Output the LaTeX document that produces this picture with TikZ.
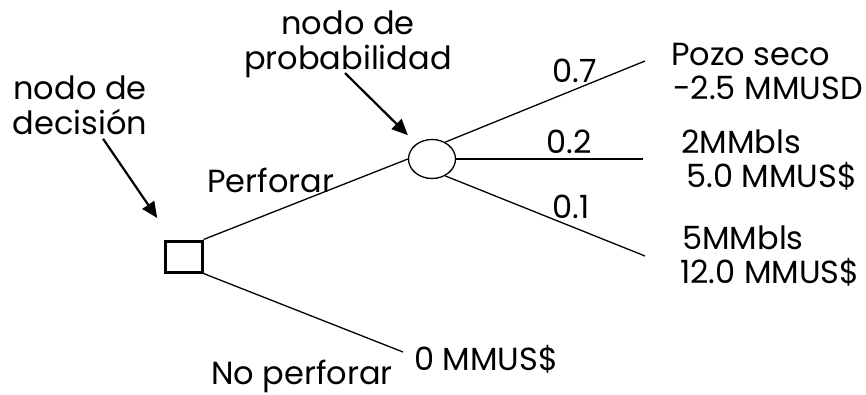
\documentclass[tikz,border=0pt]{standalone}
\usepackage{fontspec}
\setmainfont{Poppins}
\usetikzlibrary{shapes.geometric,arrows.meta}

\tikzset{
  txt/.style={font=\fontsize{32}{35}\selectfont, inner sep=0pt},
  rama/.style={line width=1.3pt},
  flecha/.style={line width=2.2pt, -{Triangle[length=16pt,width=14pt]}}
}

\begin{document}
\begin{tikzpicture}[x=1pt,y=-1pt]
\useasboundingbox (0,0) rectangle (866,394);
% nodos del arbol
\node[draw, line width=3pt, minimum width=37pt, minimum height=31pt, inner sep=0pt] (dec) at (183.5,256.5) {};
\node[draw, ellipse, line width=1.3pt, minimum width=47pt, minimum height=39pt, inner sep=0pt] (prob) at (432,159) {};
% extremos de las ramas
\coordinate (e0) at (403,352);
\coordinate (e1) at (645,61);
\coordinate (e2) at (643,159);
\coordinate (e3) at (645,256);
\draw[rama] (dec.north east) -- (prob.west);
\draw[rama] (dec.south east) -- (e0);
\draw[rama] (prob.52) -- (e1);
\draw[rama] (prob.east) -- (e2);
\draw[rama] (prob.-52) -- (e3);
% etiquetas
\node[txt, align=center] (lbldec) at (80,105) {nodo de\\decisión};
\node[txt, align=center] (lblprob) at (348,44) {nodo de\\probabilidad};
\coordinate (pa) at (345,73);
\draw[flecha, shorten <=5pt, shorten >=26pt] (lbldec) -- (dec);
\draw[flecha, shorten >=12pt] (pa) -- (prob);
\node[txt, anchor=base west] (perf) at (207,192) {Perforar};
\node[txt, anchor=base west] (noperf) at (211,384) {No perforar};
\node[txt, anchor=base west] (p1) at (552,82) {0.7};
\node[txt, anchor=base west] (p2) at (546,153) {0.2};
\node[txt, anchor=base west] (p3) at (552,218) {0.1};
\node[txt, anchor=base west] (r1a) at (671,65) {Pozo seco};
\node[txt, anchor=base west] (r1b) at (673,99) {-2.5 MMUSD};
\node[txt, anchor=base west] (r2a) at (681,153) {2MMbls};
\node[txt, anchor=base west] (r2b) at (686,187) {5.0 MMUS\$};
\node[txt, anchor=base west] (r3a) at (682,249) {5MMbls};
\node[txt, anchor=base west] (r3b) at (680,283) {12.0 MMUS\$};
\node[txt, anchor=base west] (r0) at (414,370) {0 MMUS\$};
\end{tikzpicture}
\end{document}
